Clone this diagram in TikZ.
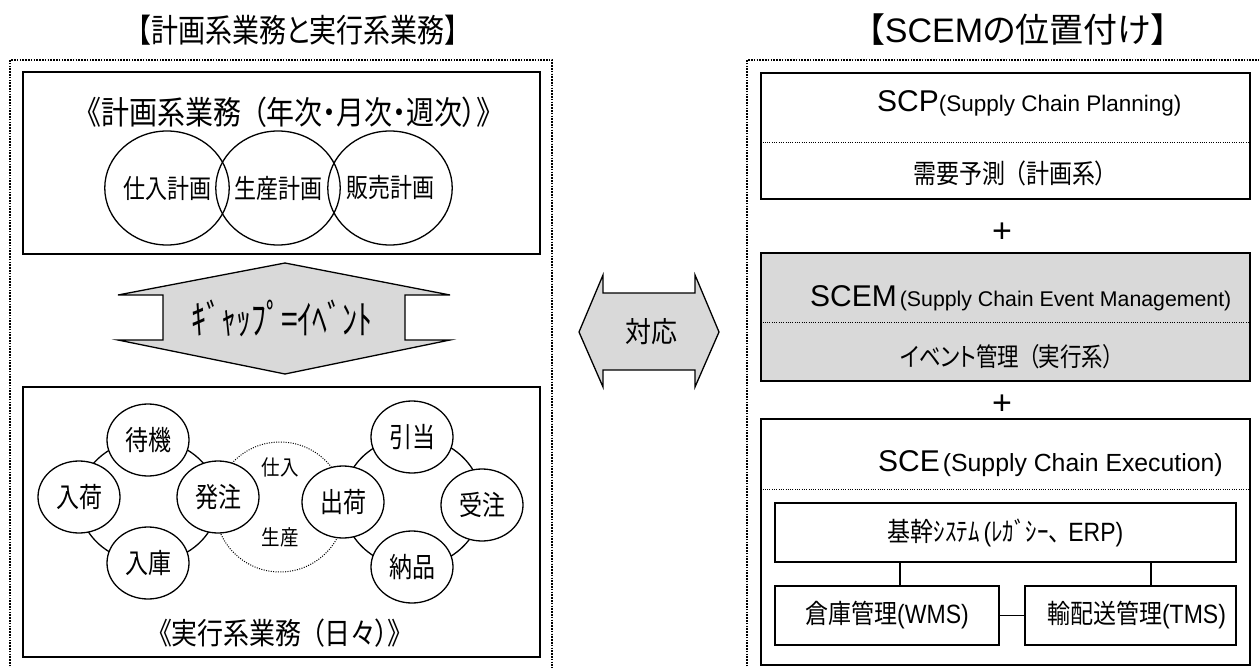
\documentclass[tikz,border=0pt]{standalone}
\usepackage{graphicx}
\usepackage{fontspec}
\setmainfont{Noto Sans CJK JP}[RawFeature=+palt]
\newfontfamily\lat{Liberation Sans}
\usetikzlibrary{shapes.geometric}
\newcommand\fs[1]{\fontsize{#1}{#1}\selectfont}
\newcommand\tall[2][1.2]{\scalebox{1}[#1]{#2}}
\newcommand\pgap{\hspace{.4em}}
\definecolor{shade}{HTML}{D9D9D9}
\begin{document}
\begin{tikzpicture}[x=1pt,y=-1pt,
  outer/.style={line width=1.8pt, dash pattern=on 1.6pt off 1.2pt},
  panel/.style={draw, line width=1.5pt, inner sep=0pt},
  divider/.style={line width=0.9pt, dash pattern=on 1pt off 1.3pt},
  link/.style={line width=1.3pt},
  plancircle/.style={draw, line width=1.3pt, ellipse, inner sep=0pt,
    minimum width=120pt, minimum height=114pt, font=\fs{22}},
  taskcircle/.style={draw, fill=white, line width=1.3pt, ellipse, inner sep=0pt,
    minimum width=82pt, minimum height=72pt, font=\fs{23}},
  txt/.style={inner sep=0pt},
  body/.style={inner sep=0pt, font=\fs{23}},
  fat/.style={line width=1.3pt, fill=shade},
]
\useasboundingbox (0,0) rectangle (1260,668);

% ---------- left half ----------
\node[txt, font=\fs{27}] (ltitle) at (298,30) {\tall[1.2]{【計画系業務と実行系業務】}};
\draw[outer] (10,700) -- (10,60) -- (552,60) -- (552,700);

% planning box
\node[panel, minimum width=517pt, minimum height=182pt] (plan) at (281.5,163) {};
\node[txt, font=\fs{28}] (plantitle) at (289,112) {\tall[1.15]{《計画系業務\pgap（年次・月次・週次）》}};
\node[plancircle] (buy) at (167,188) {\tall{仕入計画}};
\node[plancircle] (make) at (278,188) {\tall{生産計画}};
\node[plancircle] (sell) at (390,188) {\tall{販売計画}};

% gap = event arrow
\draw[fat] (285,263) -- (450,295) -- (405,295) -- (405,340) -- (450,340)
  -- (285,374) -- (118,340) -- (163,340) -- (163,295) -- (118,295) -- cycle;
\node[txt, font=\fs{30}] (gap) at (282,318) {\tall[1.35]{ｷﾞｬｯﾌﾟ=ｲﾍﾞﾝﾄ}};

% execution box
\node[panel, minimum width=517pt, minimum height=270pt] (exec) at (281.5,522) {};
\draw[link] (148.5,501) ellipse (69.5 and 61.5);
\draw[link] (412.5,502) ellipse (69.5 and 65);
\draw[line width=1pt, dash pattern=on 1pt off 1.4pt] (280,507) circle (65);
\node[txt, font=\fs{18.5}] (lblbuy) at (280,467) {\tall[1.15]{仕入}};
\node[txt, font=\fs{18.5}] (lblmake) at (280,537) {\tall[1.15]{生産}};
\node[taskcircle] (wait) at (148,440) {\tall{待機}};
\node[taskcircle] (arrive) at (79,497) {\tall{入荷}};
\node[taskcircle] (order) at (218,497) {\tall{発注}};
\node[taskcircle] (store) at (148,563) {\tall{入庫}};
\node[taskcircle] (ship) at (343,502) {\tall{出荷}};
\node[taskcircle] (alloc) at (412,437) {\tall{引当}};
\node[taskcircle] (recv) at (482,505) {\tall{受注}};
\node[taskcircle] (deliver) at (412,567) {\tall{納品}};
\node[txt, font=\fs{26}] (exectitle) at (280,633) {\tall[1.15]{《実行系業務\pgap（日々）》}};

% ---------- correspondence arrow ----------
\draw[fat] (579,332) -- (603,275) -- (603,293) -- (695,293) -- (695,275)
  -- (719,332) -- (695,387) -- (695,370) -- (603,370) -- (603,387) -- cycle;
\node[txt, font=\fs{26}] (corr) at (651,332) {\tall[1.1]{対応}};

% ---------- right half ----------
\node[txt, font=\fs{34}] (rtitle) at (1018,30) {【{\lat SCEM}の位置付け】};
\draw[outer] (747,700) -- (747,60) -- (1275,60);

% SCP
\node[panel, minimum width=489pt, minimum height=126pt] (scp) at (1005.5,136) {};
\draw[divider] ([yshift=-70pt]scp.north west) -- ([yshift=-70pt]scp.north east);
\node[txt, anchor=base west] (scpname) at (877,112)
  {\lat\fs{30}SCP\fs{22.5}(Supply Chain Planning)};
\node[body] (scpsub) at (1010,173) {\tall[1.15]{需要予測\pgap（計画系）}};

\node[txt, font=\lat\fs{34}] (plusa) at (1002,233) {+};

% SCEM
\node[panel, fill=shade, minimum width=489pt, minimum height=128pt] (scem) at (1005.5,317) {};
\draw[divider] ([yshift=-70pt]scem.north west) -- ([yshift=-70pt]scem.north east);
\node[txt, anchor=base west] (scemname) at (810,306)
  {\lat\fs{30}SCEM\hspace{3pt}\fs{21.3}(Supply Chain Event Management)};
\node[txt, font=\fs{21.5}] (scemsub) at (1007,357) {\tall[1.2]{イベント管理\pgap（実行系）}};

\node[txt, font=\lat\fs{34}] (plusb) at (1002,405) {+};

% SCE
\node[panel, minimum width=489pt, minimum height=246pt] (sce) at (1005.5,542) {};
\draw[divider] ([yshift=-71pt]sce.north west) -- ([yshift=-71pt]sce.north east);
\node[txt, anchor=base west] (scename) at (878,471)
  {\lat\fs{30}SCE\hspace{3pt}\fs{24.8}(Supply Chain Execution)};

\node[panel, minimum width=461pt, minimum height=59pt, font=\fs{23}] (erp) at (1005.5,532.5)
  {\tall[1.15]{基幹ｼｽﾃﾑ\hspace{4pt}{\lat(}ﾚｶﾞｼｰ、\hspace{8pt}{\lat ERP)}}};
\node[panel, minimum width=224pt, minimum height=59pt, font=\fs{23}] (wms) at (887,615.5)
  {\tall[1.15]{倉庫管理{\lat(WMS)}}};
\node[panel, minimum width=211pt, minimum height=59pt, font=\fs{23}] (tms) at (1130.5,615.5)
  {\tall[1.15]{\hspace{12pt}輸配送管理{\lat(TMS)}}};
\draw[link] ([xshift=13pt]wms.north) -- ([xshift=13pt]wms.north |- erp.south);
\draw[link] ([xshift=20.5pt]tms.north) -- ([xshift=20.5pt]tms.north |- erp.south);
\draw[link] (wms.east) -- (tms.west);
\end{tikzpicture}
\end{document}
